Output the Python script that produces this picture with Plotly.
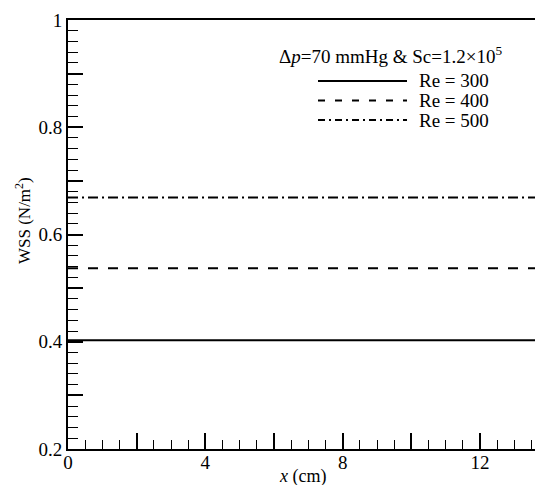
import plotly.graph_objects as go

x_range = [0, 13.6]
re_labels = ["Re = 300", "Re = 400", "Re = 500"]
wss_values = [0.403, 0.537, 0.669]
line_dashes = ["solid", "10px,10px", "10px,4px,2px,4px"]
legend_dashes = ["solid", "7px,10px", "7px,4px,2px,4px"]

x_tick_vals = [0, 2, 4, 6, 8, 10, 12]
x_tick_text = ["0", "", "4", "", "8", "", "12"]
y_tick_vals = [0.2, 0.3, 0.4, 0.5, 0.6, 0.7, 0.8, 0.9, 1.0]
y_tick_text = ["0.2", "", "0.4", "", "0.6", "", "0.8", "", "1"]

FONT = "Liberation Serif, Times New Roman, serif"

W, H = 535, 485
PL, PR, PT, PB = 68, 535, 20, 449
ml, mt, mr, mb = PL, PT, W - PR, H - PB

def px(xp):
    return (xp - PL) / (PR - PL)

def py(yp):
    return 1 - (yp - PT) / (PB - PT)

fig = go.Figure()
for lab, v, d in zip(re_labels, wss_values, line_dashes):
    fig.add_trace(go.Scatter(x=x_range, y=[v, v], mode="lines", name=lab,
                             line=dict(color="black", width=2, dash=d),
                             showlegend=False, hoverinfo="skip"))

# manual legend
fig.add_annotation(x=px(504), y=py(55), xref="paper", yref="paper",
                   text="Δ<i>p</i>=70 mmHg &amp; Sc=1.2×10<sup>5</sup>",
                   showarrow=False, xanchor="right", yanchor="middle",
                   font=dict(family=FONT, size=19, color="black"))
rows = [81, 100.5, 120]
for lab, d, yr in zip(re_labels, legend_dashes, rows):
    fig.add_shape(type="line", xref="paper", yref="paper",
                  x0=px(318), x1=px(407), y0=py(yr), y1=py(yr),
                  line=dict(color="black", width=2, dash=d))
    fig.add_annotation(x=px(417), y=py(yr), xref="paper", yref="paper",
                       text=lab, showarrow=False, xanchor="left", yanchor="middle",
                       font=dict(family=FONT, size=19, color="black"))

# axis titles
fig.add_annotation(x=px(302), y=py(476), xref="paper", yref="paper",
                   text="<i>x</i> (cm)", showarrow=False,
                   xanchor="center", yanchor="middle",
                   font=dict(family=FONT, size=18, color="black"))
fig.add_annotation(x=px(23), y=py(221), xref="paper", yref="paper",
                   text="WSS (N/m<sup>2</sup>)", showarrow=False, textangle=-90,
                   xanchor="center", yanchor="middle",
                   font=dict(family=FONT, size=17, color="black"))

fig.update_layout(
    width=W, height=H,
    margin=dict(l=ml, r=mr, t=mt, b=mb, autoexpand=False),
    paper_bgcolor="white", plot_bgcolor="white",
    font=dict(family=FONT, size=19, color="black"),
    xaxis=dict(range=x_range, tickmode="array", tickvals=x_tick_vals, ticktext=x_tick_text,
               ticks="inside", ticklen=16, tickwidth=2, tickcolor="black",
               minor=dict(dtick=0.5, ticks="inside", ticklen=9, tickwidth=1, tickcolor="black"),
               showline=True, linecolor="black", linewidth=2, mirror=True,
               showgrid=False, zeroline=False, ticklabelstandoff=-5,
               tickfont=dict(family=FONT, size=19)),
    yaxis=dict(range=[0.2, 1.0], tickmode="array", tickvals=y_tick_vals, ticktext=y_tick_text,
               ticks="inside", ticklen=15, tickwidth=2, tickcolor="black",
               minor=dict(dtick=0.02, ticks="inside", ticklen=10, tickwidth=1, tickcolor="black"),
               showline=True, linecolor="black", linewidth=2,
               showgrid=False, zeroline=False,
               tickfont=dict(family=FONT, size=19)),
)

fig.write_html(
    "out.html",
    config={"displayModeBar": False},
    post_script="document.body.style.margin='0';document.body.style.overflow='hidden';"
                "document.documentElement.style.overflow='hidden';",
)
